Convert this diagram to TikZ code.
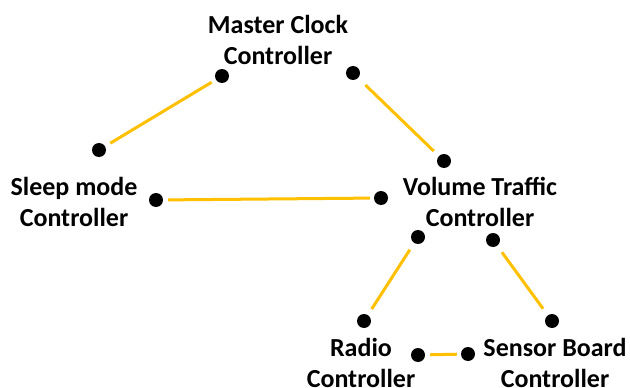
\documentclass[tikz,border=0pt]{standalone}
\usepackage{fontspec}
\setmainfont{Carlito}
\definecolor{linkgold}{HTML}{FFC000}
\tikzset{
  dot/.style={circle,fill=black,minimum size=14pt,inner sep=0pt},
  lbl/.style={align=center,font=\fontsize{26pt}{31pt}\selectfont\bfseries,inner sep=0pt},
  link/.style={draw=linkgold,line width=3pt}
}
\begin{document}
\begin{tikzpicture}[x=1pt,y=-1pt]
\useasboundingbox[fill=white] (0,0) rectangle (630,388);
% labels
\node[lbl] (mcl) at (278,40) {Master Clock\\Controller};
\node[lbl] (sml) at (74,202) {Sleep mode\\Controller};
\node[lbl] (vtl) at (480,202) {Volume Traffic\\Controller};
\node[lbl] (rl) at (361,363) {Radio\\Controller};
\node[lbl] (sbl) at (555,363) {Sensor Board\\Controller};
% dots
\node[dot] (mcA) at (222,76) {};
\node[dot] (mcB) at (353,73) {};
\node[dot] (smA) at (99,150) {};
\node[dot] (smB) at (156,200) {};
\node[dot] (vtA) at (444,161) {};
\node[dot] (vtB) at (381,198) {};
\node[dot] (vtC) at (418,237) {};
\node[dot] (vtD) at (493,240) {};
\node[dot] (rA) at (364,321) {};
\node[dot] (rB) at (418,355) {};
\node[dot] (sbA) at (552,321) {};
\node[dot] (sbB) at (468,354) {};
% connectors
\draw[link,shorten <=6pt,shorten >=5pt] (smA) -- (mcA);
\draw[link,shorten <=10pt,shorten >=7pt] (mcB) -- (vtA);
\draw[link,shorten <=5pt,shorten >=4pt] (smB) -- (vtB);
\draw[link,shorten <=8pt,shorten >=7pt] (vtC) -- (rA);
\draw[link,shorten <=8pt,shorten >=8pt] (vtD) -- (sbA);
\draw[link,shorten <=5pt,shorten >=4pt] (rB) -- (sbB);
\end{tikzpicture}
\end{document}
